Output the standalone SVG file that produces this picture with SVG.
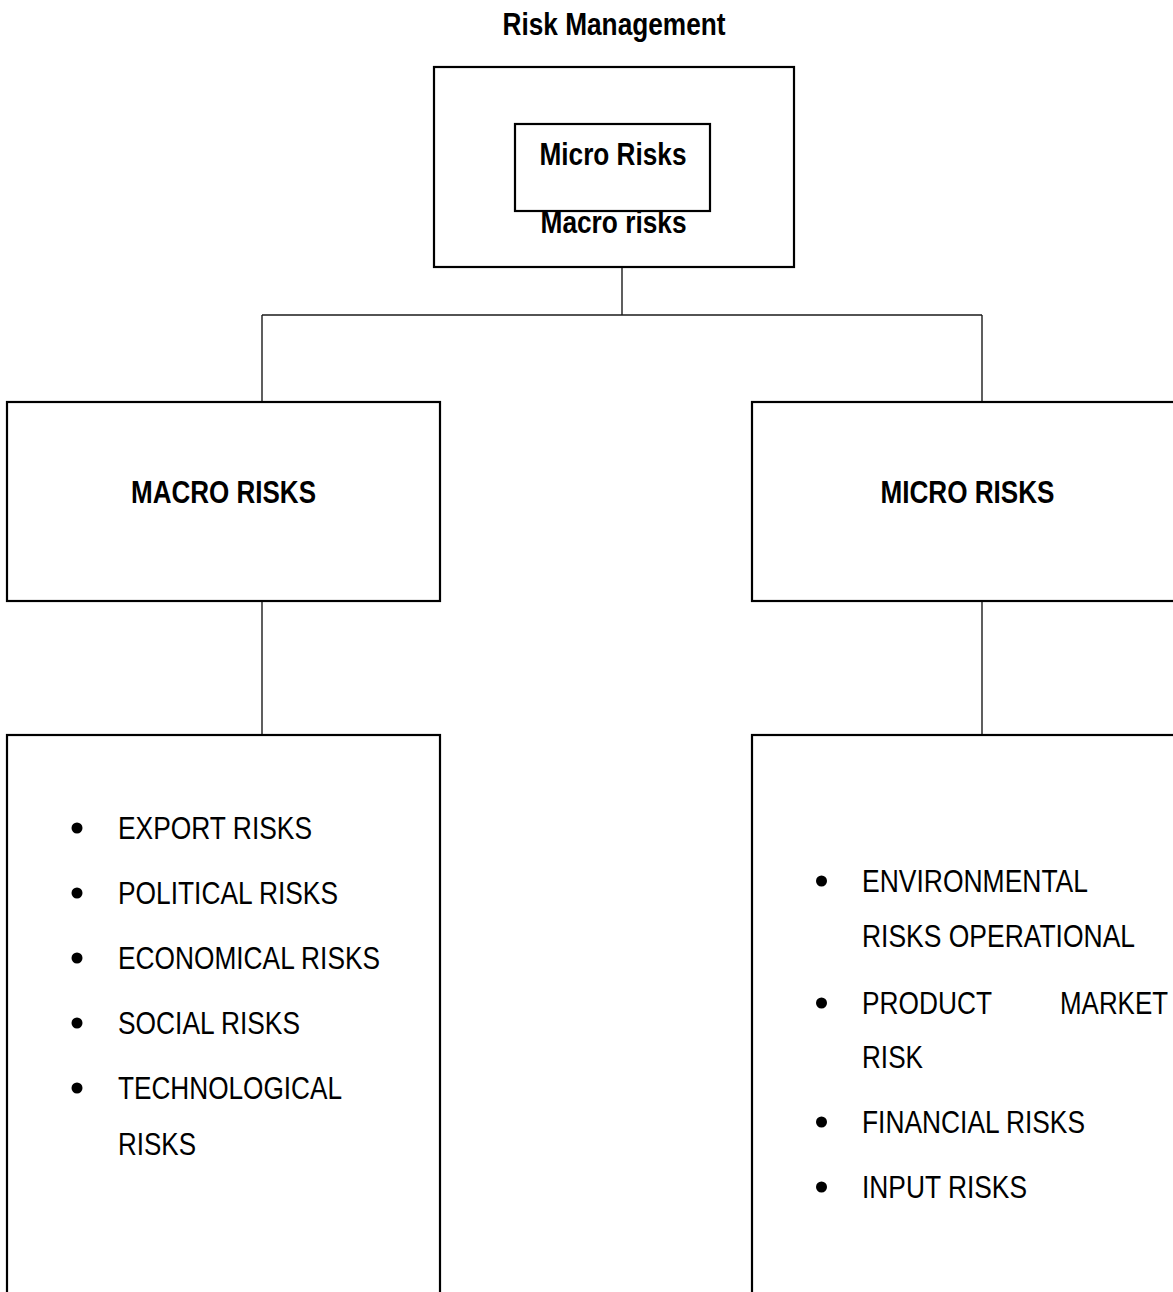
<svg xmlns="http://www.w3.org/2000/svg" width="1173" height="1292" viewBox="0 0 1173 1292">
  <style>
    .box { fill: #ffffff; stroke: #000000; stroke-width: 2.2; }
    .link { fill: none; stroke: #1a1a1a; stroke-width: 1.4; }
    .txt { font-family: "Liberation Sans Narrow", "Liberation Sans", Arial, sans-serif; font-size: 32px; fill: #000000; }
    .bold { font-weight: bold; }
    .mid { text-anchor: middle; }
    .dot { fill: #000000; }
  </style>
  <rect width="1173" height="1292" fill="#ffffff"/>

  <!-- title -->
  <text id="title" class="txt bold mid" x="614" y="35" textLength="223" lengthAdjust="spacingAndGlyphs">Risk Management</text>

  <!-- connectors -->
  <g id="connectors">
    <line class="link" x1="622" y1="267" x2="622" y2="315"/>
    <line class="link" x1="262" y1="315" x2="982" y2="315"/>
    <line class="link" x1="262" y1="315" x2="262" y2="402"/>
    <line class="link" x1="982" y1="315" x2="982" y2="402"/>
    <line class="link" x1="262" y1="601" x2="262" y2="738"/>
    <line class="link" x1="982" y1="601" x2="982" y2="738"/>
  </g>

  <!-- root node -->
  <g id="root">
    <rect class="box" x="434" y="67" width="360" height="200"/>
    <rect class="box" x="515" y="124" width="195" height="87"/>
    <text class="txt bold mid" x="613" y="165" textLength="147" lengthAdjust="spacingAndGlyphs">Micro Risks</text>
    <text class="txt bold mid" x="613.5" y="233" textLength="146" lengthAdjust="spacingAndGlyphs">Macro risks</text>
  </g>

  <!-- macro branch -->
  <g id="macro">
    <rect class="box" x="7" y="402" width="433" height="199"/>
    <text class="txt bold mid" x="223.5" y="503" textLength="185" lengthAdjust="spacingAndGlyphs">MACRO RISKS</text>
  </g>

  <!-- micro branch (runs past the right edge) -->
  <g id="micro">
    <rect class="box" x="752" y="402" width="440" height="199"/>
    <text class="txt bold mid" x="967.5" y="503" textLength="174" lengthAdjust="spacingAndGlyphs">MICRO RISKS</text>
  </g>

  <!-- macro risk list (runs past the bottom edge) -->
  <g id="macro-list">
    <rect class="box" x="7" y="735" width="433" height="600"/>
    <circle class="dot" cx="77" cy="828" r="5.5"/>
    <text class="txt" x="118" y="839" textLength="194" lengthAdjust="spacingAndGlyphs">EXPORT RISKS</text>
    <circle class="dot" cx="77" cy="893" r="5.5"/>
    <text class="txt" x="118" y="904" textLength="220" lengthAdjust="spacingAndGlyphs">POLITICAL RISKS</text>
    <circle class="dot" cx="77" cy="958" r="5.5"/>
    <text class="txt" x="118" y="969" textLength="262" lengthAdjust="spacingAndGlyphs">ECONOMICAL RISKS</text>
    <circle class="dot" cx="77" cy="1023" r="5.5"/>
    <text class="txt" x="118" y="1034" textLength="182" lengthAdjust="spacingAndGlyphs">SOCIAL RISKS</text>
    <circle class="dot" cx="77" cy="1088" r="5.5"/>
    <text class="txt" x="118" y="1099" textLength="224" lengthAdjust="spacingAndGlyphs">TECHNOLOGICAL</text>
    <text class="txt" x="118" y="1155" textLength="78" lengthAdjust="spacingAndGlyphs">RISKS</text>
  </g>

  <!-- micro risk list (runs past the right and bottom edges) -->
  <g id="micro-list">
    <rect class="box" x="752" y="735" width="440" height="600"/>
    <circle class="dot" cx="821.5" cy="881" r="5.5"/>
    <text class="txt" x="862" y="892" textLength="226" lengthAdjust="spacingAndGlyphs">ENVIRONMENTAL</text>
    <text class="txt" x="862" y="947" textLength="273" lengthAdjust="spacingAndGlyphs">RISKS OPERATIONAL</text>
    <circle class="dot" cx="821.5" cy="1003" r="5.5"/>
    <text class="txt" x="862" y="1014" textLength="130" lengthAdjust="spacingAndGlyphs">PRODUCT</text>
    <text class="txt" x="1060" y="1014" textLength="108" lengthAdjust="spacingAndGlyphs">MARKET</text>
    <text class="txt" x="862" y="1068" textLength="61" lengthAdjust="spacingAndGlyphs">RISK</text>
    <circle class="dot" cx="821.5" cy="1122" r="5.5"/>
    <text class="txt" x="862" y="1133" textLength="223" lengthAdjust="spacingAndGlyphs">FINANCIAL RISKS</text>
    <circle class="dot" cx="821.5" cy="1187" r="5.5"/>
    <text class="txt" x="862" y="1198" textLength="165" lengthAdjust="spacingAndGlyphs">INPUT RISKS</text>
  </g>
</svg>
